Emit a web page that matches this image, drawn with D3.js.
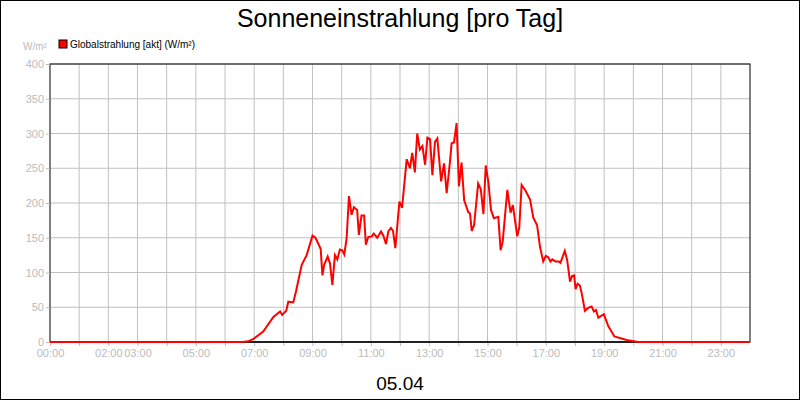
<!DOCTYPE html>
<html><head><meta charset="utf-8">
<script src="https://cdn.jsdelivr.net/npm/d3@7"></script>
<style>body{margin:0;background:#fff}svg{display:block;font-family:"Liberation Sans",Arial,sans-serif}</style>
</head><body><svg id="c" width="800" height="400"></svg>
<script>
const hours = [0,6.6,6.8,6.96,7.31,7.66,7.89,7.96,8.1,8.17,8.34,8.43,8.63,8.8,9.0,9.1,9.28,9.34,9.4,9.52,9.6,9.68,9.77,9.85,9.94,10.02,10.09,10.17,10.25,10.34,10.42,10.53,10.59,10.68,10.77,10.83,10.91,11.03,11.1,11.22,11.35,11.43,11.52,11.6,11.69,11.76,11.84,11.98,12.07,12.23,12.28,12.34,12.42,12.51,12.59,12.68,12.77,12.86,12.94,13.03,13.11,13.2,13.28,13.41,13.51,13.6,13.71,13.77,13.85,13.94,14.02,14.11,14.2,14.34,14.4,14.46,14.54,14.68,14.77,14.86,14.94,15.03,15.12,15.22,15.37,15.45,15.52,15.68,15.79,15.87,15.96,16.02,16.09,16.17,16.3,16.46,16.57,16.7,16.8,16.91,17.0,17.08,17.16,17.22,17.33,17.44,17.5,17.65,17.73,17.83,17.9,17.97,18.02,18.09,18.17,18.23,18.34,18.45,18.57,18.65,18.72,18.8,18.99,19.14,19.35,19.77,20.17,24];
const values = [0,0,1,4,15,36,44,39,45,58,57,72,111,125,153,150,134,96,111,123,113,82,125,119,133,132,126,149,210,183,194,190,154,182,182,140,151,152,156,150,159,153,141,159,164,160,135,202,193,263,257,250,272,244,300,277,282,255,294,292,240,288,293,231,257,214,258,286,287,315,224,258,204,187,185,160,168,228,220,184,254,230,190,178,180,132,144,219,186,197,170,152,165,226,218,205,179,168,137,116,124,122,116,119,116,116,114,131,118,87,95,96,76,84,81,70,45,49,51,44,46,35,40,23,8,3,0,0];
const xTickLabels = [0,2,3,5,7,9,11,13,15,17,19,21,23];
const yTicks = [0,50,100,150,200,250,300,350,400];
const svg = d3.select("#c");
const L=50,R=750,T=64,B=342;
const x=d3.scaleLinear().domain([0,24]).range([L,R]);
const y=d3.scaleLinear().domain([0,400]).range([B,T]);
svg.append("rect").attr("x",0.5).attr("y",0.5).attr("width",799).attr("height",399).attr("fill","#fff").attr("stroke","#000");
const g=svg.append("g");
g.selectAll(".vg").data(d3.range(1,24)).join("line").attr("x1",d=>x(d)).attr("x2",d=>x(d)).attr("y1",T).attr("y2",B).attr("stroke","#c0c0c0");
g.selectAll(".hg").data(yTicks.slice(1)).join("line").attr("x1",L).attr("x2",R).attr("y1",d=>y(d)).attr("y2",d=>y(d)).attr("stroke","#c0c0c0");
svg.append("rect").attr("x",L).attr("y",T).attr("width",R-L).attr("height",B-T).attr("fill","none").attr("stroke","#000");
const xa=svg.append("g").attr("transform",`translate(0,${B})`).call(d3.axisBottom(x).tickValues(d3.range(0,24)).tickSize(4).tickFormat(d=>xTickLabels.includes(d)?String(d).padStart(2,"0")+":00":""));
const ya=svg.append("g").attr("transform",`translate(${L},0)`).call(d3.axisLeft(y).tickValues(yTicks).tickSize(4));
[xa,ya].forEach(a=>{a.select(".domain").remove();a.selectAll("line").attr("stroke","#bbb");a.selectAll("text").attr("fill","#bbb").attr("font-size",11).attr("font-family","Liberation Sans, Arial");});
ya.selectAll("text").attr("dx",1);
svg.append("line").attr("x1",L).attr("x2",R).attr("y1",B).attr("y2",B).attr("stroke","#000").attr("stroke-width",1.5);
svg.append("path").datum(hours.map((h,i)=>[h,values[i]])).attr("fill","none").attr("stroke","#f00").attr("stroke-width",2)
 .attr("d",d3.line().x(d=>x(d[0])).y(d=>y(d[1])));
svg.append("text").attr("x",400).attr("y",27).attr("text-anchor","middle").attr("font-size",25).text("Sonneneinstrahlung [pro Tag]");
svg.append("text").attr("x",400).attr("y",390).attr("text-anchor","middle").attr("font-size",19).text("05.04");
svg.append("text").attr("x",23).attr("y",50).attr("font-size",10).attr("fill","#bbb").text("W/m²");
svg.append("rect").attr("x",59).attr("y",40).attr("width",8).attr("height",8).attr("fill","#f00").attr("stroke","#000");
svg.append("text").attr("x",70).attr("y",48).attr("font-size",10).text("Globalstrahlung [akt] (W/m²)");
</script></body></html>
